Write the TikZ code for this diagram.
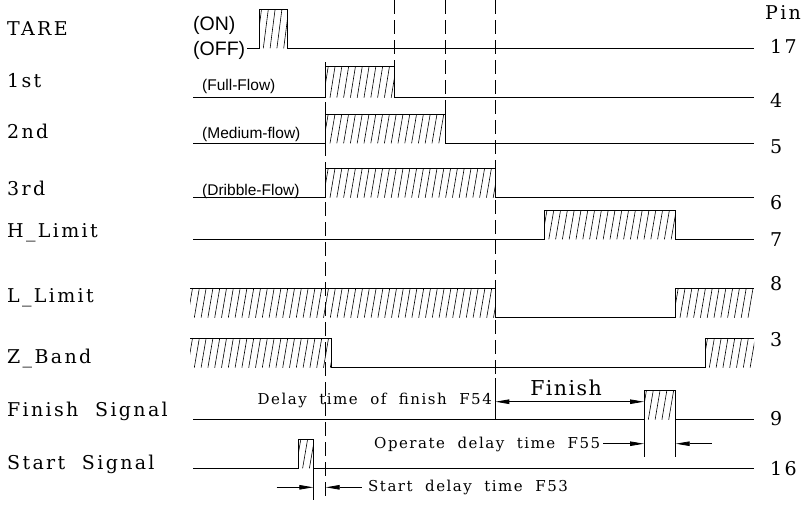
\documentclass[tikz,border=0pt]{standalone}
\usepackage{fontspec}
\newfontfamily\sanslab{Liberation Sans}
\newfontfamily\labserif[LetterSpace=12.3,WordSpace=2]{DejaVu Serif}
\newfontfamily\noteserif[LetterSpace=10,WordSpace=2]{DejaVu Serif}
\newfontfamily\finserif[LetterSpace=7]{DejaVu Serif}
\usetikzlibrary{arrows.meta}
\newcommand\hatchfill[4]{%
  \begin{scope}
    \clip (#1,#3) rectangle (#2,#4);
    \foreach \k in {0,...,48} {
      \draw[hatchline] ({#1+6.8*\k-2.5},#4) -- ({#1+6.8*\k+2.5},#3);
    }
  \end{scope}}
\begin{document}
\begin{tikzpicture}[x=1pt,y=-1pt,
  wave/.style={line width=0.9pt, line join=miter},
  hatchline/.style={line width=0.6pt},
  vdash/.style={line width=0.8pt, dash pattern=on 14pt off 6pt},
  dim/.style={line width=0.8pt},
  arr/.style={dim,-{Triangle[length=14pt,width=4.5pt]}},
  darr/.style={dim,{Triangle[length=14pt,width=4.5pt]}-{Triangle[length=14pt,width=4.5pt]}},
  sig/.style={font=\fontsize{19}{22}\selectfont\labserif, inner sep=0pt, anchor=base west},
  note/.style={font=\fontsize{15}{18}\selectfont\noteserif, inner sep=0pt},
  big/.style={font=\fontsize{20.5}{24}\selectfont\finserif, inner sep=0pt},
  flow/.style={font=\fontsize{15.5}{18}\selectfont\sanslab, inner sep=0pt, anchor=base west},
  onoff/.style={font=\fontsize{19.5}{22}\selectfont\sanslab, inner sep=0pt, anchor=base west},
  ]
\useasboundingbox (0,0) rectangle (802,504);

% ---------- signal names ----------
\node[sig] (lTARE) at (7,35) {TARE};
\node[sig] (l1st) at (7,87.3) {1st};
\node[sig] (l2nd) at (7,138) {2nd};
\node[sig] (l3rd) at (7,195) {3rd};
\node[sig] (lH) at (7,237) {H\_Limit};
\node[sig] (lL) at (7,302) {L\_Limit};
\node[sig] (lZ) at (7,363) {Z\_Band};
\node[sig] (lFin) at (7,416.7) {Finish Signal};
\node[sig] (lStart) at (7,469) {Start Signal};

% ---------- pin numbers ----------
\node[sig] (pPin) at (765,19.5) {Pin};
\node[sig] (p17) at (770,53) {17};
\node[sig] (p4) at (770,107) {4};
\node[sig] (p5) at (770,153) {5};
\node[sig] (p6) at (770,209) {6};
\node[sig] (p7) at (770,246.7) {7};
\node[sig] (p8) at (770,290) {8};
\node[sig] (p3) at (770,346.7) {3};
\node[sig] (p9) at (770,425) {9};
\node[sig] (p16) at (770,475) {16};

% ---------- small state labels ----------
\node[onoff] (on) at (193,30) {(ON)};
\node[onoff] (off) at (193,55) {(OFF)};
\node[flow] (full) at (202,90.7) {(Full-Flow)};
\node[flow] (medium) at (202,138.3) {(Medium-flow)};
\node[flow] (dribble) at (202,195) {(Dribble-Flow)};

% ---------- TARE ----------
\hatchfill{259}{287.7}{9.3}{48.3}
\draw[wave] (247,48.3) -- (259,48.3) -- (259,9.3) -- (287.7,9.3) -- (287.7,48.3) -- (754,48.3);
% ---------- 1st ----------
\hatchfill{325.7}{394}{66.7}{97.7}
\draw[wave] (193,97.7) -- (325.7,97.7) -- (325.7,66.7) -- (394,66.7) -- (394,97.7) -- (754,97.7);
% ---------- 2nd ----------
\hatchfill{325.7}{445.7}{114}{143.3}
\draw[wave] (193,143.3) -- (325.7,143.3) -- (325.7,114) -- (445.7,114) -- (445.7,143.3) -- (754,143.3);
% ---------- 3rd ----------
\hatchfill{325.7}{495.3}{168.3}{197.7}
\draw[wave] (193,197.7) -- (325.7,197.7) -- (325.7,168.3) -- (495.3,168.3) -- (495.3,197.7) -- (754,197.7);
% ---------- H_Limit ----------
\hatchfill{544.5}{675.7}{210}{239.3}
\draw[wave] (193,239.3) -- (544.5,239.3) -- (544.5,210) -- (675.7,210) -- (675.7,239.3) -- (754,239.3);
% ---------- L_Limit ----------
\hatchfill{190}{495.3}{288.3}{317.7}
\hatchfill{675.7}{754}{288.3}{317.7}
\draw[wave] (190,288.3) -- (495.3,288.3) -- (495.3,317.7) -- (675.7,317.7) -- (675.7,288.3) -- (754,288.3);
% ---------- Z_Band ----------
\hatchfill{190}{331}{338.3}{367.7}
\hatchfill{705}{754}{338.3}{367.7}
\draw[wave] (190,338.3) -- (331,338.3) -- (331,367.7) -- (705,367.7) -- (705,338.3) -- (754,338.3);
% ---------- Finish signal ----------
\hatchfill{644}{675.7}{390}{419.7}
\draw[wave] (193,419.7) -- (644,419.7) -- (644,390) -- (675.7,390) -- (675.7,419.7) -- (754,419.7);
% ---------- Start signal ----------
\hatchfill{298.3}{313.3}{439.3}{468.3}
\draw[wave] (193,468.3) -- (298.3,468.3) -- (298.3,439.3) -- (313.3,439.3) -- (313.3,468.3) -- (754,468.3);

% ---------- dashed time markers ----------
\draw[vdash] (394,0) -- (394,97.7);
\draw[vdash] (445.7,0) -- (445.7,143.3);
\draw[vdash] (495.3,0) -- (495.3,378);
\draw[vdash] (325.7,62) -- (325.7,500);

% ---------- dimension reference points ----------
\coordinate (f54top) at (495.3,378);
\coordinate (f54bot) at (495.3,419.7);
\coordinate (finL) at (495.3,401.7);
\coordinate (finR) at (644,401.7);
\coordinate (opTopL) at (644,419.7);
\coordinate (opBotL) at (644,457);
\coordinate (opTopR) at (675.7,419.7);
\coordinate (opBotR) at (675.7,457);
\coordinate (opA1) at (603,443.7);
\coordinate (opA1e) at (644,443.7);
\coordinate (opA2) at (711.7,443.7);
\coordinate (opA2e) at (675.7,443.7);
\coordinate (stTop) at (313.3,468.3);
\coordinate (stBot) at (313.3,500);
\coordinate (stA1) at (276.7,487.3);
\coordinate (stA1e) at (313.3,487.3);
\coordinate (stA2) at (361.7,487.3);
\coordinate (stA2e) at (325.7,487.3);

\draw[dim] (f54top) -- (f54bot);
\draw[dim] (opTopL) -- (opBotL);
\draw[dim] (opTopR) -- (opBotR);
\draw[dim] (stTop) -- (stBot);
\draw[darr] (finL) -- (finR);
\draw[arr] (opA1) -- (opA1e);
\draw[arr] (opA2) -- (opA2e);
\draw[arr] (stA1) -- (stA1e);
\draw[arr] (stA2) -- (stA2e);

% ---------- annotations ----------
\node[note, anchor=base east] (tF54) at (492,404) {Delay time of finish F54};
\node[big, anchor=base] (tFinish) at (566,395) {Finish};
\node[note, anchor=base west] (tF55) at (374,448.3) {Operate delay time F55};
\node[note, anchor=base west] (tF53) at (368,491.7) {Start delay time F53};
\end{tikzpicture}
\end{document}
